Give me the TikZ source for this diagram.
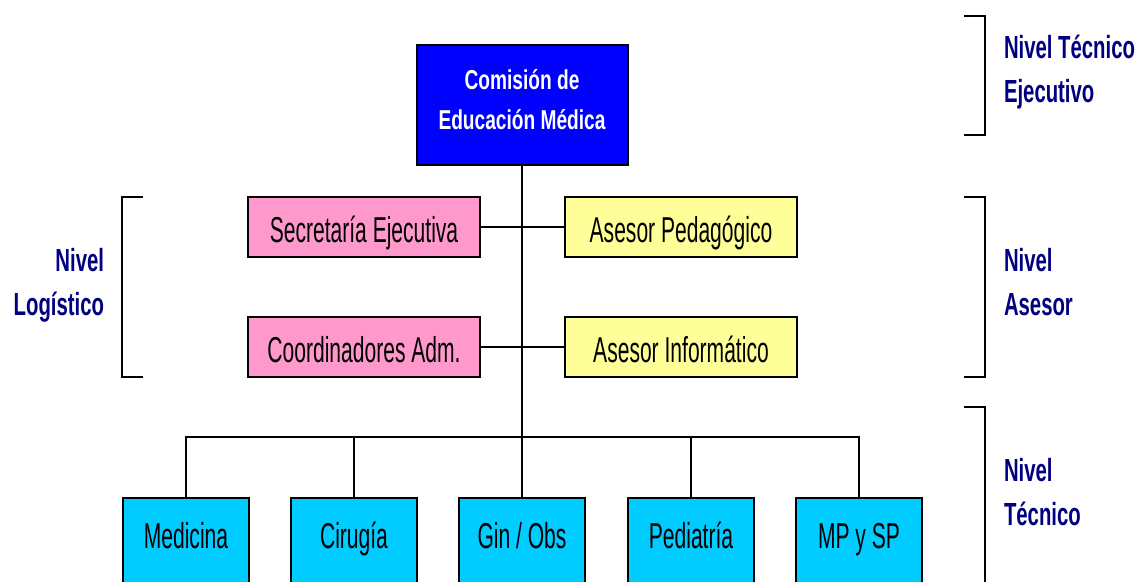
\documentclass[tikz,border=0pt]{standalone}
\usepackage{fontspec}
\setmainfont{Liberation Sans}[FakeStretch=0.585]
\newfontfamily\headfont{Liberation Sans}[FakeStretch=0.70]
\newfontfamily\levelfont{Liberation Sans}[FakeStretch=0.635]
\usepackage{tikz}

\definecolor{cemblue}{RGB}{0,0,255}
\definecolor{logpink}{RGB}{255,153,204}
\definecolor{aseyellow}{RGB}{255,255,153}
\definecolor{tecyan}{RGB}{0,204,255}
\definecolor{nivnavy}{RGB}{0,0,128}

\begin{document}
\begin{tikzpicture}
		[
		x=0.75pt, y=-0.75pt,
		line width=1.5pt
		]
		
		% Box styles: head, staff (pink and yellow) and departments
		\tikzstyle{head box}=[draw,fill=cemblue,text=white,align=center,inner sep=0pt,text depth=9pt,minimum width=158.25pt,minimum height=90pt,font=\headfont\bfseries\fontsize{20.5}{30}\selectfont];
		\tikzstyle{staff box}=[draw,inner ysep=0pt,minimum width=173.5pt,text height=33.75pt,text depth=11.25pt,font=\fontsize{27}{30}\selectfont];
		\tikzstyle{log box}=[staff box,fill=logpink];
		\tikzstyle{ase box}=[staff box,fill=aseyellow];
		\tikzstyle{dept box}=[draw,fill=tecyan,anchor=north,inner ysep=0pt,minimum width=94.5pt,text height=37.5pt,text depth=45pt,font=\fontsize{27}{30}\selectfont];
		% Level labels
		\tikzstyle{level}=[text=nivnavy,inner sep=0pt,font=\levelfont\bfseries\fontsize{24}{33}\selectfont];
		
		\useasboundingbox (0,0) rectangle (1140,582);
		\clip (0,0) rectangle (1140,582);
		
		% Comision
		\node (cem)[head box] at (522,105) {Comisión de\\Educación Médica};
		
		% Logistica y asesores
		\node (sec)[log box] at (364,227) {Secretaría Ejecutiva};
		\node (coa)[log box] at (364,347) {Coordinadores Adm.};
		\node (ape)[ase box] at (681,227) {Asesor Pedagógico};
		\node (ain)[ase box] at (681,347) {Asesor Informático};
		
		% Departamentos
		\node (med)[dept box] at (186,497) {Medicina};
		\node (cir)[dept box] at (354,497) {Cirugía};
		\node (gin)[dept box] at (522,497) {Gin / Obs};
		\node (ped)[dept box] at (691,497) {Pediatría};
		\node (mps)[dept box] at (859,497) {MP y SP};
		
		% Connectors
		\coordinate (bus) at (522,437);
		\draw (cem.south) -- (bus);
		\draw (sec.east) -- (ape.west);
		\draw (coa.east) -- (ain.west);
		\draw (med.north) -- (med.north |- bus) -- (mps.north |- bus) -- (mps.north);
		\draw (cir.north) -- (cir.north |- bus);
		\draw (gin.north) -- (gin.north |- bus);
		\draw (ped.north) -- (ped.north |- bus);
		
		% Brackets
		\draw (964,16) -- (985,16) -- (985,135) -- (964,135);
		\draw (964,197) -- (985,197) -- (985,377) -- (964,377);
		\draw (964,407) -- (985,407) -- (985,600);
		\draw (143,197) -- (122,197) -- (122,377) -- (143,377);
		
		% Levels (base = baseline of the last line)
		\node (ntej)[level,anchor=base west,align=left] at (1003,102) {Nivel Técnico\\Ejecutivo};
		\node (nase)[level,anchor=base west,align=left] at (1003,315) {Nivel\\Asesor};
		\node (ntec)[level,anchor=base west,align=left] at (1003,525) {Nivel\\Técnico};
		\node (nlog)[level,anchor=base east,align=right] at (105,315) {Nivel\\Logístico};
\end{tikzpicture}
\end{document}
